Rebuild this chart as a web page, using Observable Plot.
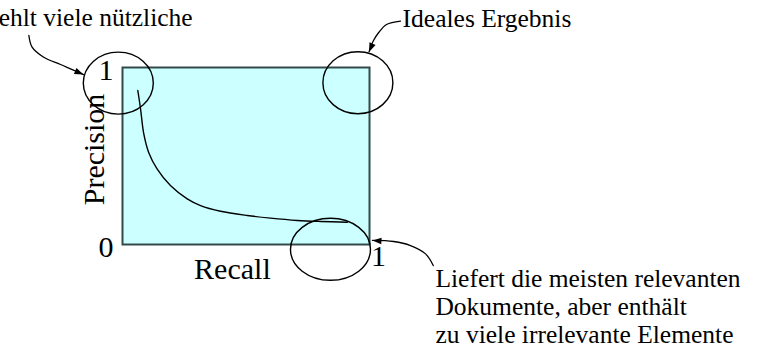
<!DOCTYPE html>
<html><head><meta charset="utf-8">
<script src="https://cdn.jsdelivr.net/npm/d3@7"></script>
<script src="https://cdn.jsdelivr.net/npm/@observablehq/plot@0.6"></script>
<style>html,body{margin:0;padding:0;background:#fff;overflow:hidden}
svg text{font-family:"Liberation Serif","Times New Roman",serif}</style>
</head><body><div id="chart"></div>
<script>
// Precision/recall curve
const recall    = [0.062,0.073,0.086,0.106,0.140,0.194,0.262,0.316,0.397,0.505,0.599,0.707,0.802,0.910];
const precision = [0.870,0.767,0.626,0.520,0.427,0.333,0.258,0.220,0.188,0.164,0.149,0.136,0.130,0.126];

// tick labels
const yTicks = [0, 1];
const xTicks = [1];
const xTitle = "Recall";
const yTitle = "Precision";

// highlighted regions (centres in data units)
const circleR = [-0.017, 0.953, 0.842];
const circleP = [0.912, 0.914, -0.027];

// annotation texts
const noteText = [
  "Fehlt viele nützliche",
  "Ideales Ergebnis",
  "Liefert die meisten relevanten\nDokumente, aber enthält\nzu viele irrelevante Elemente"
];
const noteR = [0.284, 1.134, 1.267];
const noteP = [1.232, 1.228, -0.555];

// annotation arrow paths (data units)
const arrow1R = [-0.379, -0.366, -0.319, -0.251, -0.170, -0.158];
const arrow1P = [1.181, 1.115, 1.058, 1.017, 0.968, 0.960];
const arrow2R = [1.1255, 1.069, 1.038, 1.014, 0.998];
const arrow2P = [1.262, 1.243, 1.199, 1.147, 1.088];
const arrow3R = [1.258, 1.227, 1.166, 1.098, 1.012];
const arrow3P = [-0.119, -0.053, -0.006, 0.017, 0.023];

const ellipse = (rx, ry) => ({
  draw(ctx) {
    const k = 0.5523;
    ctx.moveTo(rx, 0);
    ctx.bezierCurveTo(rx, ry * k, rx * k, ry, 0, ry);
    ctx.bezierCurveTo(-rx * k, ry, -rx, ry * k, -rx, 0);
    ctx.bezierCurveTo(-rx, -ry * k, -rx * k, -ry, 0, -ry);
    ctx.bezierCurveTo(rx * k, -ry, rx, -ry * k, rx, 0);
    ctx.closePath();
  }
});
const head = {
  draw(ctx) {
    ctx.moveTo(0, 0);
    ctx.lineTo(3.3, 9);
    ctx.lineTo(-3.3, 9);
    ctx.closePath();
  }
};

const serif = "Liberation Serif";
const circleMark = (i, rx) => Plot.dot([i], {
  x: [circleR[i]], y: [circleP[i]], symbol: ellipse(rx, 31), r: 1,
  fill: "none", stroke: "black", strokeWidth: 1.4
});
const arrowLine = (R, P) => Plot.line(R, {x: R, y: P, curve: "catmull-rom", stroke: "black", strokeWidth: 1.3});
const arrowHead = (R, P, rot) => Plot.dot([0], {
  x: [R[R.length - 1]], y: [P[P.length - 1]], symbol: head, r: 1, fill: "black", stroke: "none", rotate: rot
});

const chart = Plot.plot({
  width: 760,
  height: 349,
  marginLeft: 122,
  marginRight: 391,
  marginTop: 67,
  marginBottom: 105,
  style: {fontFamily: serif, background: "white", color: "black"},
  x: {domain: [0, 1], axis: null},
  y: {domain: [0, 1], axis: null},
  marks: [
    Plot.frame({fill: "#ccffff", stroke: "#334a4a", strokeWidth: 2}),
    Plot.axisY({ticks: yTicks, tickSize: 0, tickPadding: 9, fontSize: 30, dy: 2.5, tickFormat: d => String(d), label: null, fontFamily: serif}),
    Plot.axisX({ticks: xTicks, tickSize: 0, tickPadding: 0, fontSize: 30, dx: 9, tickFormat: d => String(d), label: null, fontFamily: serif}),
    Plot.text([xTitle], {x: [0.445], y: [-0.194], text: d => d, fontSize: 30, textAnchor: "middle", lineAnchor: "bottom", fontFamily: serif}),
    Plot.text([yTitle], {x: [-0.0757], y: [0.537], text: d => d, fontSize: 30, textAnchor: "middle", lineAnchor: "bottom", rotate: -90, fontFamily: serif}),
    Plot.line(recall, {x: recall, y: precision, curve: "catmull-rom", stroke: "black", strokeWidth: 1.4}),
    circleMark(0, 35),
    circleMark(1, 35),
    circleMark(2, 40),
    arrowLine(arrow1R, arrow1P),
    arrowLine(arrow2R, arrow2P),
    arrowLine(arrow3R, arrow3P),
    arrowHead(arrow1R, arrow1P, 113),
    arrowHead(arrow2R, arrow2P, 203),
    arrowHead(arrow3R, arrow3P, 274),
    Plot.text([noteText[0]], {x: [noteR[0]], y: [noteP[0]], text: d => d, fontSize: 25.5, textAnchor: "end", lineAnchor: "bottom", fontFamily: serif}),
    Plot.text([noteText[1]], {x: [noteR[1]], y: [noteP[1]], text: d => d, fontSize: 25.5, textAnchor: "start", lineAnchor: "bottom", fontFamily: serif}),
    Plot.text([noteText[2]], {x: [noteR[2]], y: [noteP[2]], text: d => d, fontSize: 25.5, textAnchor: "start", lineAnchor: "bottom", lineHeight: 1.09, fontFamily: serif})
  ]
});
document.getElementById("chart").appendChild(chart);
</script>
</body></html>
